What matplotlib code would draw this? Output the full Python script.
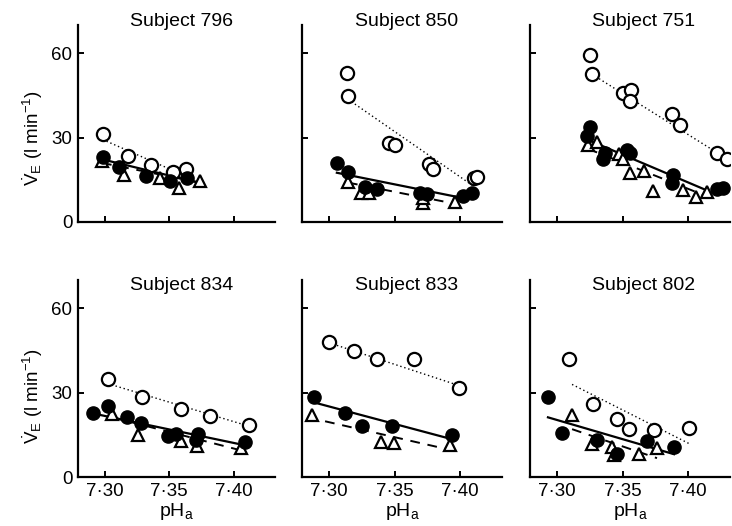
import matplotlib
matplotlib.use('Agg')
import matplotlib.pyplot as plt

plt.rcParams['font.family'] = 'Liberation Sans'
plt.rcParams['mathtext.fontset'] = 'custom'
plt.rcParams['mathtext.rm'] = 'Liberation Sans'
plt.rcParams['mathtext.it'] = 'Liberation Sans'
plt.rcParams['mathtext.default'] = 'regular'

subjects = ['796', '850', '751', '834', '833', '802']

# open circles
open_ph = [
    [7.2985, 7.318, 7.336, 7.353, 7.363],
    [7.3137, 7.3145, 7.3458, 7.350, 7.376, 7.379, 7.411, 7.413],
    [7.3252, 7.3267, 7.3504, 7.3565, 7.3557, 7.3878, 7.3939, 7.4221, 7.4298],
    [7.3023, 7.329, 7.3588, 7.3817, 7.4122],
    [7.300, 7.319, 7.3366, 7.3649, 7.3992],
    [7.3092, 7.3275, 7.3458, 7.355, 7.374, 7.4008],
]
open_ve = [
    [31.1, 23.6, 20.1, 17.6, 18.9],
    [52.9, 44.6, 28.2, 27.2, 20.7, 18.9, 15.7, 15.9],
    [59.3, 52.5, 45.7, 46.8, 42.9, 38.2, 34.6, 24.6, 22.5],
    [35.0, 28.3, 24.0, 21.6, 18.4],
    [48.1, 44.9, 42.0, 42.0, 31.8],
    [42.0, 25.8, 20.5, 17.0, 16.6, 17.3],
]

# filled circles
filled_ph = [
    [7.2985, 7.311, 7.332, 7.351, 7.364],
    [7.306, 7.3145, 7.3275, 7.3366, 7.3695, 7.375, 7.402, 7.409],
    [7.3252, 7.323, 7.3366, 7.335, 7.3535, 7.3557, 7.3885, 7.3878, 7.4221, 7.427],
    [7.2908, 7.3023, 7.3176, 7.3282, 7.3489, 7.355, 7.371, 7.3725, 7.4084],
    [7.2885, 7.3122, 7.3252, 7.348, 7.3939],
    [7.2931, 7.3038, 7.3305, 7.3458, 7.3687, 7.3893],
]
filled_ve = [
    [23.1, 19.7, 16.2, 14.4, 15.6],
    [21.1, 17.9, 12.5, 11.8, 10.4, 10.0, 9.3, 10.4],
    [33.6, 30.7, 24.6, 22.5, 25.7, 24.6, 16.8, 13.9, 11.8, 12.1],
    [22.6, 25.4, 21.2, 19.1, 14.5, 15.2, 13.1, 15.2, 12.4],
    [28.3, 22.6, 18.0, 18.0, 14.8],
    [28.3, 15.5, 13.1, 8.1, 12.7, 10.6],
]

# open triangles
tri_ph = [
    [7.298, 7.315, 7.343, 7.358, 7.374],
    [7.3145, 7.3245, 7.3305, 7.372, 7.372, 7.396],
    [7.3237, 7.3305, 7.3473, 7.3504, 7.3557, 7.3664, 7.3733, 7.3962, 7.4061, 7.4145],
    [7.3061, 7.326, 7.3588, 7.3718, 7.4053],
    [7.287, 7.3397, 7.3496, 7.3924],
    [7.3115, 7.3267, 7.342, 7.3435, 7.3626, 7.3763],
]
tri_ve = [
    [21.8, 16.8, 15.6, 12.1, 14.4],
    [14.3, 10.4, 10.4, 6.8, 8.6, 7.1],
    [27.5, 28.6, 24.3, 22.5, 17.5, 18.2, 11.1, 11.4, 8.9, 10.7],
    [22.3, 14.8, 12.7, 11.0, 10.2],
    [21.9, 12.4, 12.0, 11.3],
    [21.9, 11.7, 10.6, 7.8, 8.1, 10.2],
]

# fitted lines: (pH start, pH end), (VE start, VE end)
dotted_ph = [(7.2985, 7.355), (7.3145, 7.411), (7.3267, 7.427),
             (7.3023, 7.4122), (7.300, 7.3992), (7.3115, 7.4015)]
dotted_ve = [(29.3, 17.9), (43.6, 12.5), (52.5, 23.2),
             (33.2, 18.0), (47.7, 32.5), (32.9, 11.7)]
solid_ph = [(7.296, 7.370), (7.306, 7.398), (7.323, 7.415),
            (7.2908, 7.4084), (7.2885, 7.3924), (7.2931, 7.3893)]
solid_ve = [(22.5, 14.3), (17.5, 8.9), (29.3, 11.1),
            (22.6, 11.3), (26.5, 13.6), (21.2, 8.1)]
dashed_ph = [(7.298, 7.374), (7.3145, 7.396), (7.3237, 7.415),
             (7.3061, 7.4053), (7.297, 7.390), (7.3115, 7.3763)]
dashed_ve = [(21.0, 14.0), (14.0, 6.5), (26.0, 9.0),
             (21.2, 9.5), (19.8, 9.9), (17.0, 6.7)]

ph_ticks = [7.30, 7.35, 7.40]
ph_labels = ['7\u00b730', '7\u00b735', '7\u00b740']
ve_ticks = [0, 30, 60]

W, H = 732, 526
fig = plt.figure(figsize=(W / 100, H / 100), dpi=100)

lefts = [78, 302, 530]
rights = [275, 502, 730]
tops = [25, 280]
bottoms = [222, 477]
title_x = [182, 407, 644]
title_y = [21, 285]
ylabel_y = [138, 396]

for i, subj in enumerate(subjects):
    row, col = divmod(i, 3)
    l, r = lefts[col], rights[col]
    t, b = tops[row], bottoms[row]
    ax = fig.add_axes([l / W, 1 - b / H, (r - l) / W, (b - t) / H])

    ax.plot(dotted_ph[i], dotted_ve[i], color='black', lw=1.0, ls=(0, (1, 2)))
    ax.plot(solid_ph[i], solid_ve[i], color='black', lw=1.6)
    ax.plot(dashed_ph[i], dashed_ve[i], color='black', lw=1.4, ls=(0, (5, 4)))

    ax.plot(tri_ph[i], tri_ve[i], ls='none', marker='^', ms=9, mfc='white',
            mec='black', mew=1.6)
    ax.plot(open_ph[i], open_ve[i], ls='none', marker='o', ms=9.5, mfc='white',
            mec='black', mew=1.6)
    ax.plot(filled_ph[i], filled_ve[i], ls='none', marker='o', ms=9.5,
            mfc='black', mec='black', mew=1.0)

    ax.set_xlim(7.2794, 7.432)
    ax.set_ylim(0, 70)
    ax.spines['top'].set_visible(False)
    ax.spines['right'].set_visible(False)
    ax.spines['left'].set_linewidth(1.6)
    ax.spines['bottom'].set_linewidth(1.6)
    ax.tick_params(direction='in', length=4, width=1.4, labelsize=13.5, pad=4)
    ax.set_xticks(ph_ticks)
    ax.set_yticks(ve_ticks)
    if row == 1:
        ax.set_xticklabels(ph_labels)
        ax.set_xlabel('pH$_a$', fontsize=14, labelpad=1)
    else:
        ax.set_xticklabels([])
    if col != 0:
        ax.set_yticklabels([])

    fig.text(title_x[col] / W, 1 - title_y[row] / H, 'Subject ' + subj,
             ha='center', va='center', fontsize=14)

for row in range(2):
    fig.text(33 / W, 1 - ylabel_y[row] / H,
             r'$\dot{V}_E$ (l min$^{-1}$)', rotation=90,
             ha='center', va='center', fontsize=13.5)

fig.savefig('out.png', dpi=100)
